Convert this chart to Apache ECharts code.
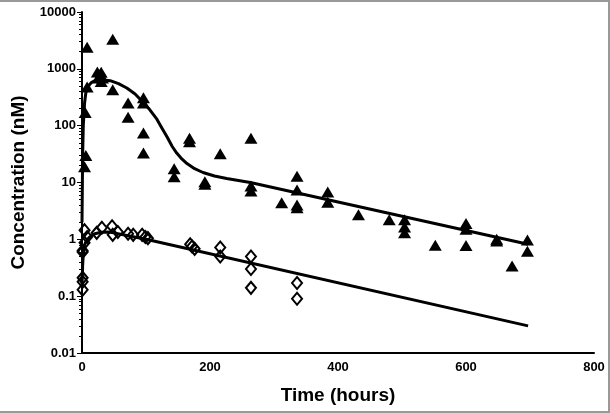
<!DOCTYPE html>
<html><head><meta charset="utf-8">
<script src="https://cdn.jsdelivr.net/npm/echarts@6/dist/echarts.min.js"></script>
<style>
html,body{margin:0;padding:0;background:#fff}
#c{width:610px;height:413px;position:absolute;left:0;top:0}
#frame{position:absolute;left:0;top:0;width:610px;height:413px;box-sizing:border-box;border-top:2px solid #999;border-right:2px solid #999;border-bottom:2px solid #999;pointer-events:none}
</style></head><body>
<div id="c"></div><div id="frame"></div>
<script>
// Filled triangles: measured concentrations (nM)
const triTime = [4,6,5,8,8, 24,30,26,32,30,28, 48,48, 72,72, 96,96,96,96, 144,144, 168,168, 192,192, 216, 264,264,264, 312, 336,336,336,336, 384,384, 432, 480, 504,504,504, 552, 600,600,600, 648,648, 672, 696,696];
const triConc = [19,30,170,480,2400, 880,870,690,690,600,780, 3300,430, 250,140, 310,250,74,33, 17.5,12.6, 60,52, 10.3,9.3, 32, 60,8.7,7.1, 4.4, 12.9,7.4,4.0,3.6, 6.8,4.5, 2.7, 2.2, 2.2,1.64,1.3, 0.79, 1.9,1.5,0.78, 1.0,0.93, 0.34, 0.97,0.62];
// Open diamonds
const diaTime = [1,1,1,1,1, 4,4, 8, 23,31,47,48,56,72,80,94,99,103, 169,172,176, 216,216, 264,264,264, 336,336];
const diaConc = [0.63,0.6,0.21,0.18,0.13, 1.45,0.87, 1.1, 1.3,1.6,1.7,1.2,1.35,1.25,1.2,1.2,1.1,1.05, 0.82,0.75,0.68, 0.72,0.5, 0.5,0.3,0.14, 0.17,0.09];
// Fitted curves
const fitTriTime = [0,1,2,4,6,10,15,22,30,44,57,70,83,95,106,117,125,133,141,148,156,164,176,189,207,226,263,697];
const fitTriConc = [2,30,100,250,380,500,580,630,640,620,550,460,360,260,190,130,90,63,43,33,26,21.5,17.5,15,13,11.8,10,0.82];
const fitDiaTime = [0,1,2,4,7,12,20,30,40,50,70,100,697];
const fitDiaConc = [0.15,0.35,0.55,0.8,0.95,1.1,1.25,1.33,1.35,1.3,1.17,1.0,0.03];
// Axis ticks
const xTicks = [0,200,400,600,800];
const yTickValues = [0.01,0.1,1,10,100,1000,10000];
const yTickLabels = ['0.01','0.1','1','10','100','1000','10000'];
const minorMultipliers = [2,3,4,5,6,7,8,9];
const yMinorTicksLog = [];
yTickValues.slice(0,-1).forEach(d => minorMultipliers.forEach(m => yMinorTicksLog.push(Math.log10(d*m))));

const zip = (a,b) => a.map((v,i) => [v,b[i]]);
const font = '"Liberation Sans", Arial, sans-serif';
const chart = echarts.init(document.getElementById('c'));
chart.setOption({
  animation:false,
  backgroundColor:'#fff',
  grid:{left:82,right:16,top:12,bottom:60},
  xAxis:{type:'value',min:xTicks[0],max:xTicks[xTicks.length-1],interval:200,
    axisLine:{onZero:false,lineStyle:{color:'#000',width:2}},
    axisTick:{show:false},splitLine:{show:false},
    axisLabel:{color:'#000',fontWeight:'bold',fontSize:13,fontFamily:font,margin:8},
    name:'Time (hours)',nameLocation:'middle',nameGap:33,
    nameTextStyle:{color:'#000',fontWeight:'bold',fontSize:19,fontFamily:font}},
  yAxis:[{type:'log',logBase:10,min:0.01,max:10000,
    axisLine:{show:true,onZero:false,lineStyle:{color:'#000',width:2}},
    axisTick:{show:true,length:5,lineStyle:{color:'#000',width:1}},
    splitLine:{show:false},
    axisLabel:{color:'#000',fontWeight:'bold',fontSize:13,fontFamily:font,margin:6,
      formatter:v=>{const i=yTickValues.findIndex(t=>Math.abs(Math.log10(t)-Math.log10(v))<1e-6);return i>=0?yTickLabels[i]:'';}},
    name:'Concentration (nM)',nameLocation:'middle',nameGap:54,
    nameTextStyle:{color:'#000',fontWeight:'bold',fontSize:19,fontFamily:font}},
   {type:'value',min:-2,max:4,position:'left',
    axisLine:{show:false,onZero:false},splitLine:{show:false},axisLabel:{show:false},
    axisTick:{show:true,length:3,customValues:yMinorTicksLog,lineStyle:{color:'#000',width:1}}}],
  series:[
    {type:'line',data:zip(fitTriTime,fitTriConc),showSymbol:false,smooth:false,
     lineStyle:{color:'#000',width:3,join:'round'},z:2},
    {type:'line',data:zip(fitDiaTime,fitDiaConc),showSymbol:false,smooth:false,
     lineStyle:{color:'#000',width:3,join:'round'},z:2},
    {type:'scatter',data:zip(triTime,triConc),symbol:'triangle',symbolSize:[13,11],
     itemStyle:{color:'#000',opacity:1},z:3},
    {type:'scatter',data:zip(diaTime,diaConc),symbol:'diamond',symbolSize:[10,12],
     itemStyle:{color:'rgba(0,0,0,0)',borderColor:'#000',borderWidth:2,opacity:1},z:3}
  ]
});
</script>
</body></html>
